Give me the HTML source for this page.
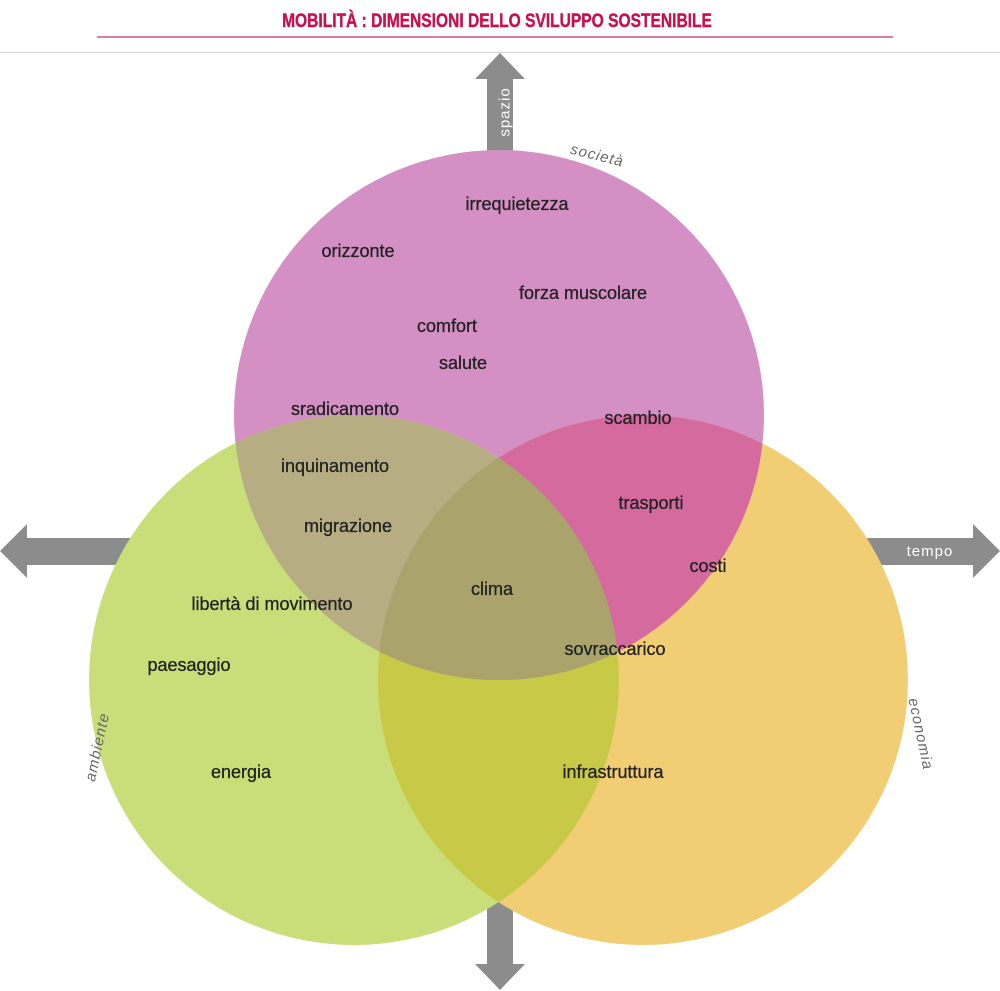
<!DOCTYPE html>
<html><head><meta charset="utf-8"><style>
html,body{margin:0;padding:0;background:#fff;}
body{width:1000px;height:991px;overflow:hidden;position:relative;font-family:"Liberation Sans",sans-serif;}
</style></head><body>
<svg width="1000" height="991" viewBox="0 0 1000 991" xmlns="http://www.w3.org/2000/svg" style="position:absolute;left:0;top:0">
<defs>
<clipPath id="cP"><circle cx="499" cy="415" r="265"/></clipPath>
<clipPath id="cG"><circle cx="354" cy="680" r="265"/></clipPath>
<clipPath id="cY"><circle cx="643" cy="680" r="265"/></clipPath>
</defs>
<text x="497" y="27" text-anchor="middle" font-family="Liberation Sans" font-weight="bold" font-size="19" fill="#c8104c" stroke="#c8104c" stroke-width="0.4" transform="translate(497 0) scale(0.82 1) translate(-497 0)">MOBILITÀ : DIMENSIONI DELLO SVILUPPO SOSTENIBILE</text>
<line x1="97" y1="37" x2="893" y2="37" stroke="#c8306a" stroke-width="1.2"/>
<line x1="0" y1="52.5" x2="1000" y2="52.5" stroke="#d4d4d4" stroke-width="1"/>
<g fill="#8c8c8c">
<polygon points="500,53 525,79 513,79 513,152 487,152 487,79 475,79"/>
<polygon points="500,990 525,964 513,964 513,900 487,900 487,964 475,964"/>
<polygon points="0,551 27,524 27,538 135,538 135,565 27,565 27,578"/>
<polygon points="1000,551 973,524 973,538 860,538 860,565 973,565 973,578"/>
</g>
<text x="0" y="0" font-size="15" fill="#fff" transform="translate(505 112) rotate(-90)" text-anchor="middle" dominant-baseline="central" letter-spacing="1">spazio</text>
<text x="930" y="556" font-size="15" fill="#fff" text-anchor="middle" letter-spacing="1">tempo</text>
<circle cx="499" cy="415" r="265" fill="#d48fc4"/>
<circle cx="354" cy="680" r="265" fill="#c9de78"/>
<circle cx="643" cy="680" r="265" fill="#f1cd74"/>
<g clip-path="url(#cG)"><circle cx="643" cy="680" r="265" fill="#c9c948"/></g>
<g clip-path="url(#cP)"><circle cx="354" cy="680" r="265" fill="#b6ae82"/><circle cx="643" cy="680" r="265" fill="#d56a9f"/></g>
<g clip-path="url(#cP)"><g clip-path="url(#cG)"><circle cx="643" cy="680" r="265" fill="#aaa46c"/></g></g>
<g font-size="15" fill="#666" font-style="italic">
<text transform="translate(596 160) rotate(14)" text-anchor="middle" letter-spacing="1">società</text>
<text transform="translate(916 735) rotate(78)" text-anchor="middle" letter-spacing="1">economia</text>
<text transform="translate(102 748) rotate(-78)" text-anchor="middle" letter-spacing="1">ambiente</text>
</g>
<g font-size="18" fill="#222" text-anchor="middle" stroke="#222" stroke-width="0.3">
<text x="517" y="210">irrequietezza</text>
<text x="358" y="257">orizzonte</text>
<text x="583" y="299">forza muscolare</text>
<text x="447" y="332">comfort</text>
<text x="463" y="369">salute</text>
<text x="345" y="415">sradicamento</text>
<text x="638" y="424">scambio</text>
<text x="335" y="472">inquinamento</text>
<text x="651" y="509">trasporti</text>
<text x="348" y="532">migrazione</text>
<text x="708" y="572">costi</text>
<text x="492" y="595">clima</text>
<text x="272" y="610">libertà di movimento</text>
<text x="615" y="655">sovraccarico</text>
<text x="189" y="671">paesaggio</text>
<text x="241" y="778">energia</text>
<text x="613" y="778">infrastruttura</text>
</g>
</svg>
</body></html>
